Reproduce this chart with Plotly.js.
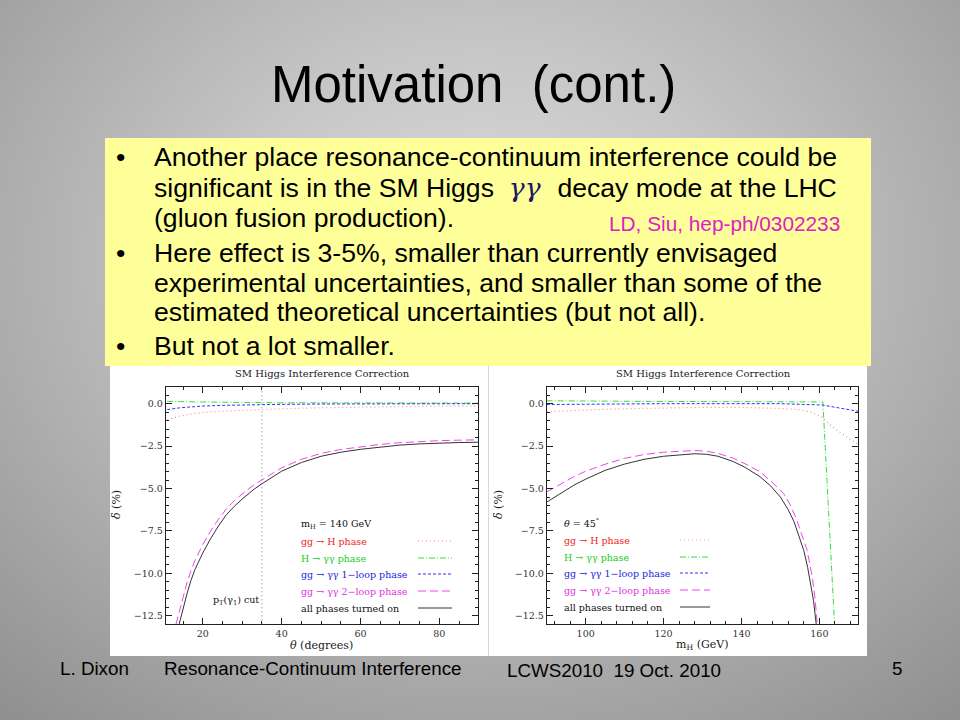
<!DOCTYPE html>
<html><head><meta charset="utf-8">
<script src="https://cdn.plot.ly/plotly-3.0.1.min.js"></script>
<style>
html,body{margin:0;padding:0;width:960px;height:720px;overflow:hidden;
background: radial-gradient(ellipse 78% 85% at 50% 36%, #dcdcdc 0%, #c6c6c6 35%, #8e8e8e 100%);}
#chart{width:960px;height:720px;}
</style></head><body><div id="chart"></div>
<script>
// ---------- data: left panel (m_H = 140 GeV), delta (%) vs theta (deg) ----------
const thetaFlat = [11, 12, 14, 16, 18, 20, 25, 30, 35, 40, 50, 60, 70, 80, 90];
const leftGgH   = [-0.95, -0.87, -0.74, -0.65, -0.58, -0.52, -0.44, -0.38, -0.34, -0.30, -0.24, -0.20, -0.17, -0.15, -0.14];
const leftHyy   = [0.14, 0.13, 0.12, 0.11, 0.10, 0.10, 0.08, 0.07, 0.06, 0.05, 0.05, 0.04, 0.04, 0.03, 0.03];
const leftLoop1 = [-0.35, -0.31, -0.25, -0.21, -0.17, -0.14, -0.10, -0.07, -0.05, -0.04, -0.02, -0.01, -0.01, 0.0, 0.0];

const thetaAll = [14, 15, 16, 17, 18, 20, 22, 24, 26, 28, 30, 33, 35, 40, 45, 50, 55, 60, 65, 70, 75, 80, 85, 90];
const leftAll  = [-13.0, -12.05, -11.2, -10.42, -9.78, -8.8, -7.95, -7.2, -6.54, -6.05, -5.62, -5.04, -4.72, -3.98, -3.47, -3.1, -2.86, -2.69, -2.55, -2.44, -2.37, -2.32, -2.29, -2.27];

const thetaLoop2 = [13.2, 14, 15, 16, 17, 18, 20, 22, 24, 26, 28, 30, 33, 35, 40, 45, 50, 55, 60, 65, 70, 75, 80, 85, 90];
const leftLoop2  = [-13.0, -12.25, -11.35, -10.55, -9.85, -9.25, -8.3, -7.5, -6.8, -6.2, -5.72, -5.32, -4.78, -4.48, -3.78, -3.28, -2.93, -2.7, -2.53, -2.4, -2.3, -2.23, -2.18, -2.15, -2.13];

const ptCutTheta = 35;

// ---------- data: right panel (theta = 45 deg), delta (%) vs m_H (GeV) ----------
const mhGgH    = [90, 95, 100, 110, 120, 130, 140, 150, 155, 158, 160.8, 163, 166, 170];
const rightGgH = [-0.48, -0.42, -0.37, -0.3, -0.25, -0.22, -0.22, -0.28, -0.36, -0.5, -0.8, -1.3, -1.8, -2.4];
const mhHyy    = [90, 100, 120, 140, 160.9, 163.9];
const rightHyy = [0.17, 0.15, 0.13, 0.12, 0.10, -13.0];
const mhLoop1    = [90, 120, 150, 160.8, 170];
const rightLoop1 = [-0.05, 0.0, 0.0, -0.08, -0.45];

const mhAll    = [90, 93, 97, 100, 105, 110, 115, 120, 125, 128, 131, 134, 138, 141, 144.8, 147.5, 150, 152, 153.5, 155, 156, 157, 157.8, 158.5, 159.2];
const rightAll = [-5.8, -5.35, -4.8, -4.45, -3.93, -3.56, -3.28, -3.1, -2.98, -2.95, -2.98, -3.1, -3.42, -3.76, -4.31, -4.85, -5.5, -6.25, -6.95, -7.9, -8.65, -9.65, -10.6, -11.6, -13.0];

const mhLoop2    = [90, 93, 97, 100, 105, 110, 115, 120, 125, 128, 131, 134, 138, 141, 144.8, 147.5, 150.8, 152.5, 154.2, 155.5, 156.8, 157.6, 158.3, 158.9, 159.3, 159.45];
const rightLoop2 = [-5.2, -4.8, -4.3, -3.98, -3.57, -3.22, -3.0, -2.86, -2.78, -2.76, -2.8, -2.93, -3.22, -3.55, -4.02, -4.55, -5.28, -5.95, -6.85, -7.7, -8.6, -9.5, -10.4, -11.5, -12.5, -13.0];

// ---------- text ----------
const plotTitle = 'SM Higgs Interference Correction';
const legendLabels = ['gg \u2192 H phase', 'H \u2192 \u03b3\u03b3 phase', 'gg \u2192 \u03b3\u03b3 1\u2212loop phase', 'gg \u2192 \u03b3\u03b3 2\u2212loop phase', 'all phases turned on'];
const yTickVals = [0, -2.5, -5, -7.5, -10, -12.5];

// ---------- styles ----------
const W = 960, H = 720;
const px = x => x / W, py = y => 1 - y / H;
const SERIF = '"DejaVu Serif", "Liberation Serif", serif';
const SANS = '"Liberation Sans", Arial, sans-serif';
const lineStyles = [
  {color: '#ff8a8a', dash: '1px,3px', width: 1.2},
  {color: '#3bdc3b', dash: '6px,2px,1px,2px', width: 1},
  {color: '#3030ff', dash: '3px,2px', width: 1},
  {color: '#ee44ee', dash: '8px,4px', width: 1},
  {color: '#333333', dash: 'solid', width: 1}
];
const textColors = ['#ee2222', '#22cc22', '#2222e0', '#e030e0', '#111111'];

function tr(x, y, i, xa, ya) {
  return {x: x, y: y, type: 'scatter', mode: 'lines', xaxis: xa, yaxis: ya,
    line: {color: lineStyles[i].color, dash: lineStyles[i].dash, width: lineStyles[i].width},
    hoverinfo: 'skip', showlegend: false};
}
const data = [
  tr(thetaFlat, leftGgH, 0, 'x', 'y'),
  tr(thetaFlat, leftHyy, 1, 'x', 'y'),
  tr(thetaFlat, leftLoop1, 2, 'x', 'y'),
  tr(thetaLoop2, leftLoop2, 3, 'x', 'y'),
  tr(thetaAll, leftAll, 4, 'x', 'y'),
  tr(mhGgH, rightGgH, 0, 'x2', 'y2'),
  tr(mhHyy, rightHyy, 1, 'x2', 'y2'),
  tr(mhLoop1, rightLoop1, 2, 'x2', 'y2'),
  tr(mhLoop2, rightLoop2, 3, 'x2', 'y2'),
  tr(mhAll, rightAll, 4, 'x2', 'y2')
];

function xAxis(domain, range, dtick, minor) {
  return {domain: domain, range: range, dtick: dtick, tick0: 0, showgrid: false, zeroline: false,
    showline: true, linecolor: '#222', linewidth: 1, mirror: 'ticks', ticks: 'inside', ticklen: 6,
    tickcolor: '#222', tickwidth: 1,
    minor: {dtick: minor, ticks: 'inside', ticklen: 3, tickcolor: '#222', tickwidth: 1, showgrid: false},
    tickfont: {family: SERIF, size: 9.5, color: '#333'}, fixedrange: true};
}
function yAxis(domain, anchor) {
  return {domain: domain, range: [-13, 1], anchor: anchor, tickvals: yTickVals, tickformat: '.1f',
    showgrid: false, zeroline: false, showline: true, linecolor: '#222', linewidth: 1, mirror: 'ticks',
    ticks: 'inside', ticklen: 6, tickcolor: '#222', tickwidth: 1,
    minor: {dtick: 0.5, tick0: 0, ticks: 'inside', ticklen: 3, tickcolor: '#222', tickwidth: 1, showgrid: false},
    tickfont: {family: SERIF, size: 9.5, color: '#333'}, fixedrange: true};
}
const yDom = [py(624.3), py(386.7)];

const annotations = [];
function ann(text, x, y, o) {
  annotations.push(Object.assign({text: text, x: px(x), y: py(y), xref: 'paper', yref: 'paper',
    showarrow: false, xanchor: 'center', yanchor: 'middle',
    font: {family: SANS, size: 16, color: '#000'}}, o || {}));
}
const shapes = [];
// slide panels
shapes.push({type: 'rect', xref: 'paper', yref: 'paper', x0: px(105), x1: px(871), y0: py(366), y1: py(138),
  fillcolor: '#ffff99', line: {width: 0}, layer: 'below'});
shapes.push({type: 'rect', xref: 'paper', yref: 'paper', x0: px(110), x1: px(867), y0: py(656), y1: py(366),
  fillcolor: '#ffffff', line: {width: 0}, layer: 'below'});
shapes.push({type: 'line', xref: 'paper', yref: 'paper', x0: px(488.5), x1: px(488.5), y0: py(656), y1: py(366),
  line: {color: '#d8d8d8', width: 1}, layer: 'below'});
// pT cut line
shapes.push({type: 'line', xref: 'x', yref: 'paper', x0: ptCutTheta, x1: ptCutTheta, y0: yDom[0], y1: yDom[1],
  line: {color: '#777', width: 1, dash: '1px,3px'}});

// Slide title
ann('Motivation  (cont.)', 473, 84.5, {font: {family: SANS, size: 51, color: '#000'}});
// Bullets
const bulletX = 120, textX = 152, bFont = {family: SANS, size: 26.6, color: '#000'};
const bulletLines = [
  ['Another place resonance-continuum interference could be', 156.5, true],
  ['significant is in the SM Higgs \u00a0<span style="font-family:\'DejaVu Serif\',serif;font-style:italic;color:#1a1a60">\u03b3\u03b3\u00a0\u00a0</span>decay mode at the LHC', 188, false],
  ['(gluon fusion production).', 218, false],
  ['Here effect is 3-5%, smaller than currently envisaged', 253.5, true],
  ['experimental uncertainties, and smaller than some of the', 283, false],
  ['estimated theoretical uncertainties (but not all).', 311.5, false],
  ['But not a lot smaller.', 346, true]
];
bulletLines.forEach(b => {
  ann(b[0], textX, b[1], {xanchor: 'left', font: bFont});
  if (b[2]) ann('\u2022', bulletX, b[1], {font: bFont});
});
ann('LD, Siu, hep-ph/0302233', 607, 223, {xanchor: 'left', font: {family: SANS, size: 20.8, color: '#e020c8'}});

// Footer
const fFont = {family: SANS, size: 18.8, color: '#000'};
ann('L. Dixon', 58, 668, {xanchor: 'left', font: fFont});
ann('Resonance-Continuum Interference', 162, 668, {xanchor: 'left', font: fFont});
ann('LCWS2010  19 Oct. 2010', 505, 670, {xanchor: 'left', font: fFont});
ann('5', 897, 668, {font: fFont});

// Panel titles and axis titles
const tFont = {family: SERIF, size: 10, color: '#222'};
ann(plotTitle, 322, 373, {font: tFont});
ann(plotTitle, 703, 373, {font: tFont});
const axFont = {family: SERIF, size: 11, color: '#222'};
ann('<i>\u03b8</i> (degrees)', 321, 645, {font: axFont});
ann('m<sub>H</sub> (GeV)', 702, 645, {font: axFont});
ann('<i>\u03b4</i> (%)', 117, 505, {font: axFont, textangle: -90});
ann('<i>\u03b4</i> (%)', 499, 505, {font: axFont, textangle: -90});

// In-plot legends (text + sample lines drawn on a hidden pixel-space overlay axis)
const lgFont = c => ({family: SERIF, size: 9.5, color: c});
ann('m<sub>H</sub> = 140 GeV', 299, 524, {xanchor: 'left', font: lgFont('#111')});
ann('<i>\u03b8</i> = 45<sup>\u00b0</sup>', 562, 523, {xanchor: 'left', font: lgFont('#111')});
const lgYLeft = [541, 558, 574, 591, 608];
const lgYRight = [540, 557, 573, 590, 607];
const lgSampleLeft = [418, 452], lgSampleRight = [680, 710];
legendLabels.forEach((t, i) => {
  ann(t, 299, lgYLeft[i], {xanchor: 'left', font: lgFont(textColors[i])});
  ann(t, 562, lgYRight[i], {xanchor: 'left', font: lgFont(textColors[i])});
  data.push(tr(lgSampleLeft, [lgYLeft[i], lgYLeft[i]], i, 'x3', 'y3'));
  data.push(tr(lgSampleRight, [lgYRight[i], lgYRight[i]], i, 'x3', 'y3'));
});
ann('p<sub>T</sub>(\u03b3<sub>1</sub>) cut', 236, 600, {font: lgFont('#111')});

const layout = {
  width: W, height: H, margin: {l: 0, r: 0, t: 0, b: 0},
  paper_bgcolor: 'rgba(0,0,0,0)', plot_bgcolor: 'rgba(0,0,0,0)', showlegend: false,
  xaxis: Object.assign(xAxis([px(165.7), px(478)], [10.6, 89.8], 20, 5), {anchor: 'y'}),
  yaxis: yAxis(yDom, 'x'),
  xaxis2: Object.assign(xAxis([px(546.7), px(858.3)], [90, 170], 20, 4), {anchor: 'y2'}),
  yaxis2: yAxis(yDom, 'x2'),
  xaxis3: {domain: [0, 1], range: [0, W], visible: false, anchor: 'y3', fixedrange: true},
  yaxis3: {domain: [0, 1], range: [H, 0], visible: false, anchor: 'x3', fixedrange: true},
  shapes: shapes, annotations: annotations
};
Plotly.newPlot('chart', data, layout, {staticPlot: true, displayModeBar: false});
</script></body></html>
